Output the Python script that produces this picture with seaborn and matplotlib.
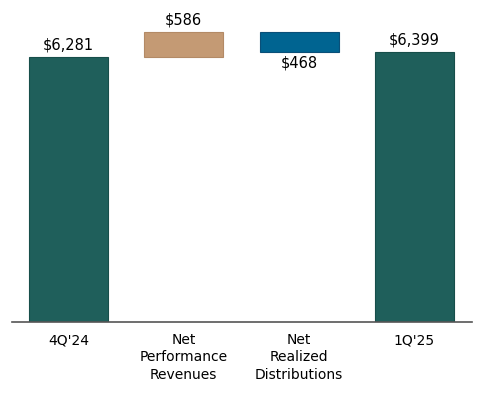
import matplotlib
matplotlib.use("Agg")
import matplotlib.pyplot as plt
import numpy as np
import pandas as pd
import seaborn as sns

# data
categories = ["4Q'24", "Net\nPerformance\nRevenues", "Net\nRealized\nDistributions", "1Q'25"]
changes = [6281, 586, -468, 6399]
kinds = ["total", "delta", "delta", "total"]
labels = ["$6,281", "$586", "$468", "$6,399"]
colors = ["#1f5f5b", "#c49a74", "#006491", "#1f5f5b"]
edges = ["#174e4a", "#b38a66", "#0a4f78", "#174e4a"]

# waterfall bottoms / heights
bottoms, heights = [], []
running = 0
for c, k in zip(changes, kinds):
    if k == "total":
        bottoms.append(0)
        heights.append(c)
        running = c
    else:
        if c >= 0:
            bottoms.append(running)
            heights.append(c)
        else:
            bottoms.append(running + c)
            heights.append(-c)
        running += c
df = pd.DataFrame({"cat": categories, "height": heights, "bottom": bottoms})

sns.set_style("white")
plt.rcParams["font.family"] = ["DejaVu Sans"]

fig = plt.figure(figsize=(4.85, 3.94), dpi=100)
ax = fig.add_axes([0.0247, 0.1827, 0.9485, 0.8173])

sns.barplot(data=df, x="cat", y="height", hue="cat", palette=colors, legend=False,
            width=0.685, ax=ax, saturation=1, errorbar=None)
# lift the floating bars onto their bottoms
for p, b, ec in zip(ax.patches, bottoms, edges):
    p.set_y(b)
    p.set_edgecolor(ec)
    p.set_linewidth(0.8)

for i, (b, h, lab) in enumerate(zip(bottoms, heights, labels)):
    if changes[i] < 0:
        ax.annotate(lab, (i, b), xytext=(0, -2.5), textcoords="offset points",
                    ha="center", va="top", fontsize=10.5, color="#000000")
    else:
        ax.annotate(lab, (i, b + h), xytext=(0, 3.5), textcoords="offset points",
                    ha="center", va="bottom", fontsize=10.5, color="#000000")

ax.set_xlim(-0.49, 3.5)
ax.set_ylim(0, 7632)
ax.set_xlabel("")
ax.set_ylabel("")
ax.set_yticks([])
ax.tick_params(axis="x", length=0, pad=8, labelsize=10, colors="#000000")
for lbl in ax.get_xticklabels():
    lbl.set_linespacing(1.3)
    lbl.set_va("top")
for s in ["top", "right", "left"]:
    ax.spines[s].set_visible(False)
ax.spines["bottom"].set_color("#555555")
ax.spines["bottom"].set_linewidth(1.2)

fig.savefig("out.png", dpi=100, facecolor="white")
